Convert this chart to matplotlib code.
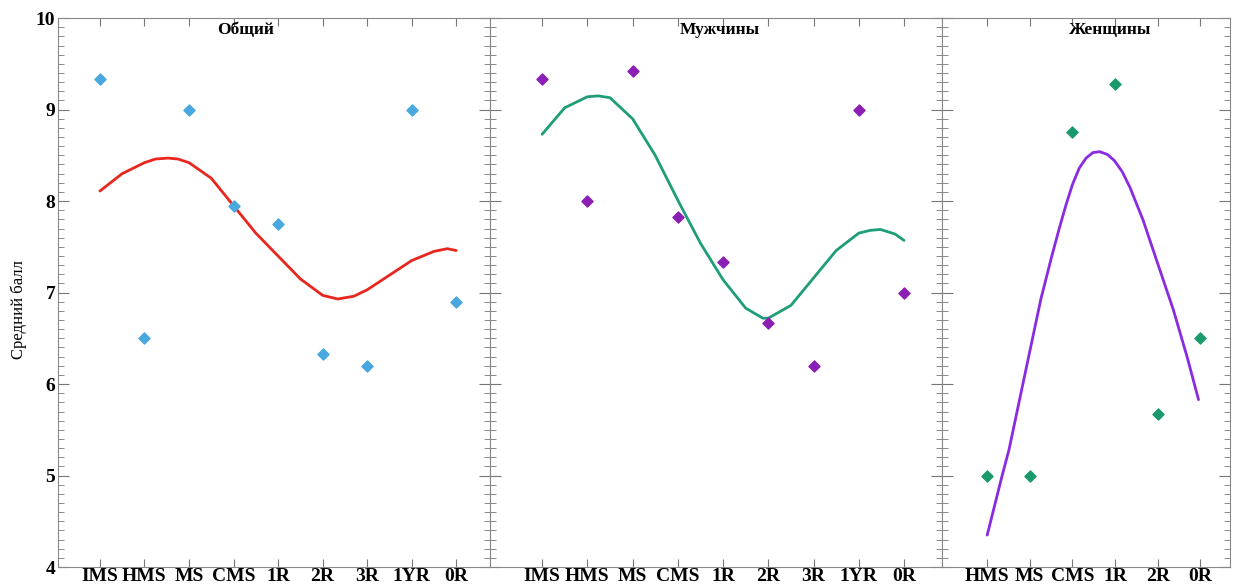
import matplotlib.pyplot as plt
from matplotlib.ticker import MultipleLocator

# data
cats_all = ["IMS", "HMS", "MS", "CMS", "1R", "2R", "3R", "1YR", "0R"]
cats_f = ["HMS", "MS", "CMS", "1R", "2R", "0R"]
total = [9.33, 6.5, 9.0, 7.95, 7.75, 6.33, 6.2, 9.0, 6.9]
men = [9.33, 8.0, 9.42, 7.83, 7.33, 6.67, 6.2, 9.0, 7.0]
women = [5.0, 5.0, 8.75, 9.28, 5.67, 6.5]

# smooth trend lines, read point by point (x in category units)
total_cx = [0, 0.5, 1.0, 1.25, 1.53, 1.75, 2.0, 2.5, 3.0, 3.5, 4.0, 4.5, 5.0, 5.34, 5.7, 6.0, 6.5, 7.0, 7.5, 7.8, 8.0]
total_cy = [8.11, 8.30, 8.42, 8.46, 8.47, 8.46, 8.42, 8.25, 7.95, 7.65, 7.40, 7.15, 6.97, 6.93, 6.96, 7.03, 7.19, 7.35, 7.45, 7.48, 7.46]
men_cx = [0, 0.5, 1.0, 1.24, 1.5, 2.0, 2.5, 3.0, 3.5, 4.0, 4.5, 4.88, 5.0, 5.5, 6.0, 6.5, 7.0, 7.25, 7.48, 7.8, 8.0]
men_cy = [8.73, 9.02, 9.14, 9.15, 9.13, 8.90, 8.50, 8.01, 7.54, 7.14, 6.83, 6.72, 6.72, 6.86, 7.16, 7.46, 7.65, 7.68, 7.69, 7.64, 7.57]
women_cx = [0, 0.35, 0.51, 1.0, 1.26, 1.5, 1.69, 1.85, 2.0, 2.16, 2.32, 2.48, 2.64, 2.82, 2.99, 3.17, 3.35, 3.66, 4.0, 4.37, 4.69, 4.96]
women_cy = [4.35, 5.0, 5.28, 6.36, 6.93, 7.37, 7.70, 7.96, 8.18, 8.36, 8.47, 8.53, 8.54, 8.51, 8.44, 8.32, 8.15, 7.79, 7.32, 6.81, 6.30, 5.83]

panels = [
    ("Общий", cats_all, total, total_cx, total_cy, "#4aa8e0", "#e8261e", (-0.94, 8.76), 0.433),
    ("Мужчины", cats_all, men, men_cx, men_cy, "#8b1fb5", "#1e9e78", (-1.15, 8.84), 0.509),
    ("Женщины", cats_f, women, women_cx, women_cy, "#1a9a6c", "#8a2be2", (-1.06, 5.70), 0.583),
]

plt.rcParams["font.family"] = ["Liberation Serif", "DejaVu Serif"]

fig = plt.figure(figsize=(12.35, 5.84), dpi=100)
gs = fig.add_gridspec(1, 3, width_ratios=[432, 452, 288], wspace=0,
                      left=0.047, right=0.996, top=0.969, bottom=0.029)

for i, (title, cats, vals, cx, cy, mcol, lcol, xl, tx) in enumerate(panels):
    ax = fig.add_subplot(gs[0, i])
    x = list(range(len(cats)))
    ax.scatter(x, vals, marker="D", s=32, color=mcol, zorder=3)
    ax.plot(cx, cy, color=lcol, lw=2, solid_joinstyle="round", solid_capstyle="round")
    ax.set_xlim(*xl)
    ax.set_ylim(4, 10)
    ax.set_xticks(x)
    ax.set_xticklabels(cats, fontweight="bold", fontsize=14)
    ax.yaxis.set_major_locator(MultipleLocator(1))
    ax.yaxis.set_minor_locator(MultipleLocator(0.1))
    ax.tick_params(axis="both", which="both", direction="in", top=True, right=True,
                   color="#777777")
    ax.tick_params(axis="x", which="major", length=6, pad=1)
    ax.tick_params(axis="y", which="major", length=8, labelsize=14, pad=2)
    ax.tick_params(axis="y", which="minor", length=4)
    for lab in ax.get_yticklabels():
        lab.set_fontweight("bold")
    for s in ax.spines.values():
        s.set_color("#888888")
    if i > 0:
        ax.tick_params(axis="y", labelleft=False)
    else:
        ax.set_ylabel("Средний балл", fontsize=12)
        ax.yaxis.set_label_coords(-0.072, 0.47)
    ax.text(tx, 0.978, title, transform=ax.transAxes, ha="center", va="center",
            fontsize=12.5, fontweight="bold")

fig.savefig("out.png", dpi=100)
